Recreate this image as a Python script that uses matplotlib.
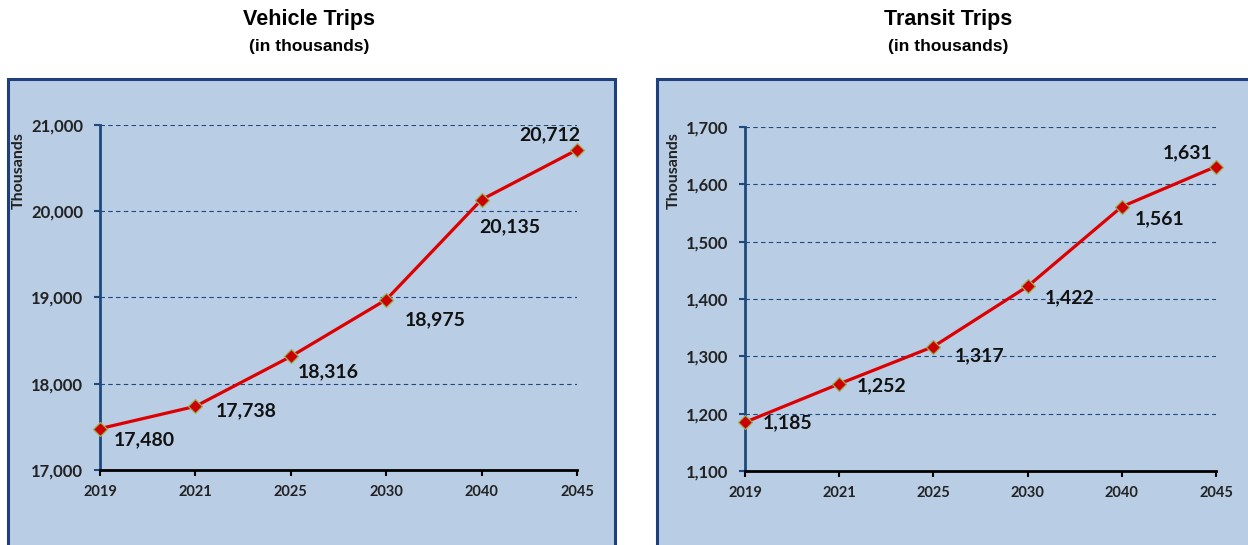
import matplotlib.pyplot as plt
from matplotlib.patches import Rectangle
from matplotlib.ticker import FuncFormatter

years = ['2019', '2021', '2025', '2030', '2040', '2045']
vehicle_trips = [17480, 17738, 18316, 18975, 20135, 20712]
transit_trips = [1185, 1252, 1317, 1422, 1561, 1631]

# label offsets in pixels (dx, dy, ha)
vehicle_offsets = [(14, -11, 'left'), (20, -4, 'left'), (7, -15, 'left'),
                   (19, -20, 'left'), (-2, -27, 'left'), (-27, 15, 'center')]
transit_offsets = [(18, 0, 'left'), (18, -2, 'left'), (21, -9, 'left'),
                   (17, -11, 'left'), (13, -12, 'left'), (-28, 14, 'center')]

panel_bg = '#B9CDE5'
dark_blue = '#1F497D'
label_font = 'Lato'
title_font = 'Liberation Sans'

fig = plt.figure(figsize=(12.48, 5.45), dpi=100)
W, H = 1248, 545

def px(x0, y0, x1, y1):
    # pixel box (top-left origin) -> figure fraction rect
    return [x0 / W, 1 - y1 / H, (x1 - x0) / W, (y1 - y0) / H]

# panel backgrounds
for x0, x1 in [(8, 615), (657, 1260)]:
    fig.patches.append(Rectangle((x0 / W, -0.05), (x1 - x0) / W, 1 - 79 / H + 0.05,
                                 transform=fig.transFigure, facecolor=panel_bg,
                                 edgecolor='#1F3F7D', lw=2.2, zorder=-1))

def draw(rect, values, ylim, step, offsets, title, cx, ylab_x):
    ax = fig.add_axes(rect)
    ax.set_facecolor('none')
    x = list(range(len(years)))
    ax.plot(x, values, color='#DD0000', lw=2.3, marker='D', markersize=7,
            markerfacecolor='#CC0000', markeredgecolor='#9BAF55', markeredgewidth=0.9,
            zorder=3, clip_on=False)
    for i, v in enumerate(values):
        dx, dy, ha = offsets[i]
        ax.annotate(f'{v:,}', (i, v), xytext=(dx, dy), textcoords='offset pixels',
                    ha=ha, va='center', fontsize=14, fontweight='bold',
                    family=label_font, color='#111111')
    ax.set_xlim(0, len(years) - 1)
    ax.set_ylim(*ylim)
    ax.set_xticks(x)
    ax.set_xticklabels(years)
    ax.set_yticks(range(ylim[0], ylim[1] + 1, step))
    ax.yaxis.set_major_formatter(FuncFormatter(lambda v, p: f'{int(v):,}'))
    ax.grid(axis='y', color=dark_blue, ls=(0, (4, 3)), lw=0.8)
    ax.set_axisbelow(True)
    for s in ['top', 'right']:
        ax.spines[s].set_visible(False)
    ax.spines['left'].set_color(dark_blue)
    ax.spines['left'].set_linewidth(2)
    ax.spines['bottom'].set_color('black')
    ax.spines['bottom'].set_linewidth(2)
    ax.tick_params(axis='y', length=4, width=1.5, color=dark_blue, pad=8)
    ax.tick_params(axis='x', length=4, width=1.5, color='black', pad=7)
    for t in ax.get_yticklabels():
        t.set_fontsize(12)
        t.set_fontweight('bold')
        t.set_family(label_font)
        t.set_color('#222222')
    for t in ax.get_xticklabels():
        t.set_fontsize(10.5)
        t.set_fontweight('bold')
        t.set_family(label_font)
        t.set_color('#222222')
    fig.text(cx / W, 1 - 20 / H, title, ha='center', va='center', fontsize=15.5,
             fontweight='bold', family=title_font)
    fig.text(cx / W, 1 - 46 / H, '(in thousands)', ha='center', va='center',
             fontsize=12.5, fontweight='bold', family=title_font)
    fig.text(ylab_x / W, 1 - 171 / H, 'Thousands', rotation=90, ha='center',
             va='center', fontsize=11.5, fontweight='bold', family=label_font,
             color='#222222')
    return ax

draw(px(100, 125, 577, 470), vehicle_trips, (17000, 21000), 1000,
     vehicle_offsets, 'Vehicle Trips', 309, 19)
draw(px(745, 127, 1216, 471), transit_trips, (1100, 1700), 100,
     transit_offsets, 'Transit Trips', 948, 674)

fig.savefig('out.png', dpi=100)
